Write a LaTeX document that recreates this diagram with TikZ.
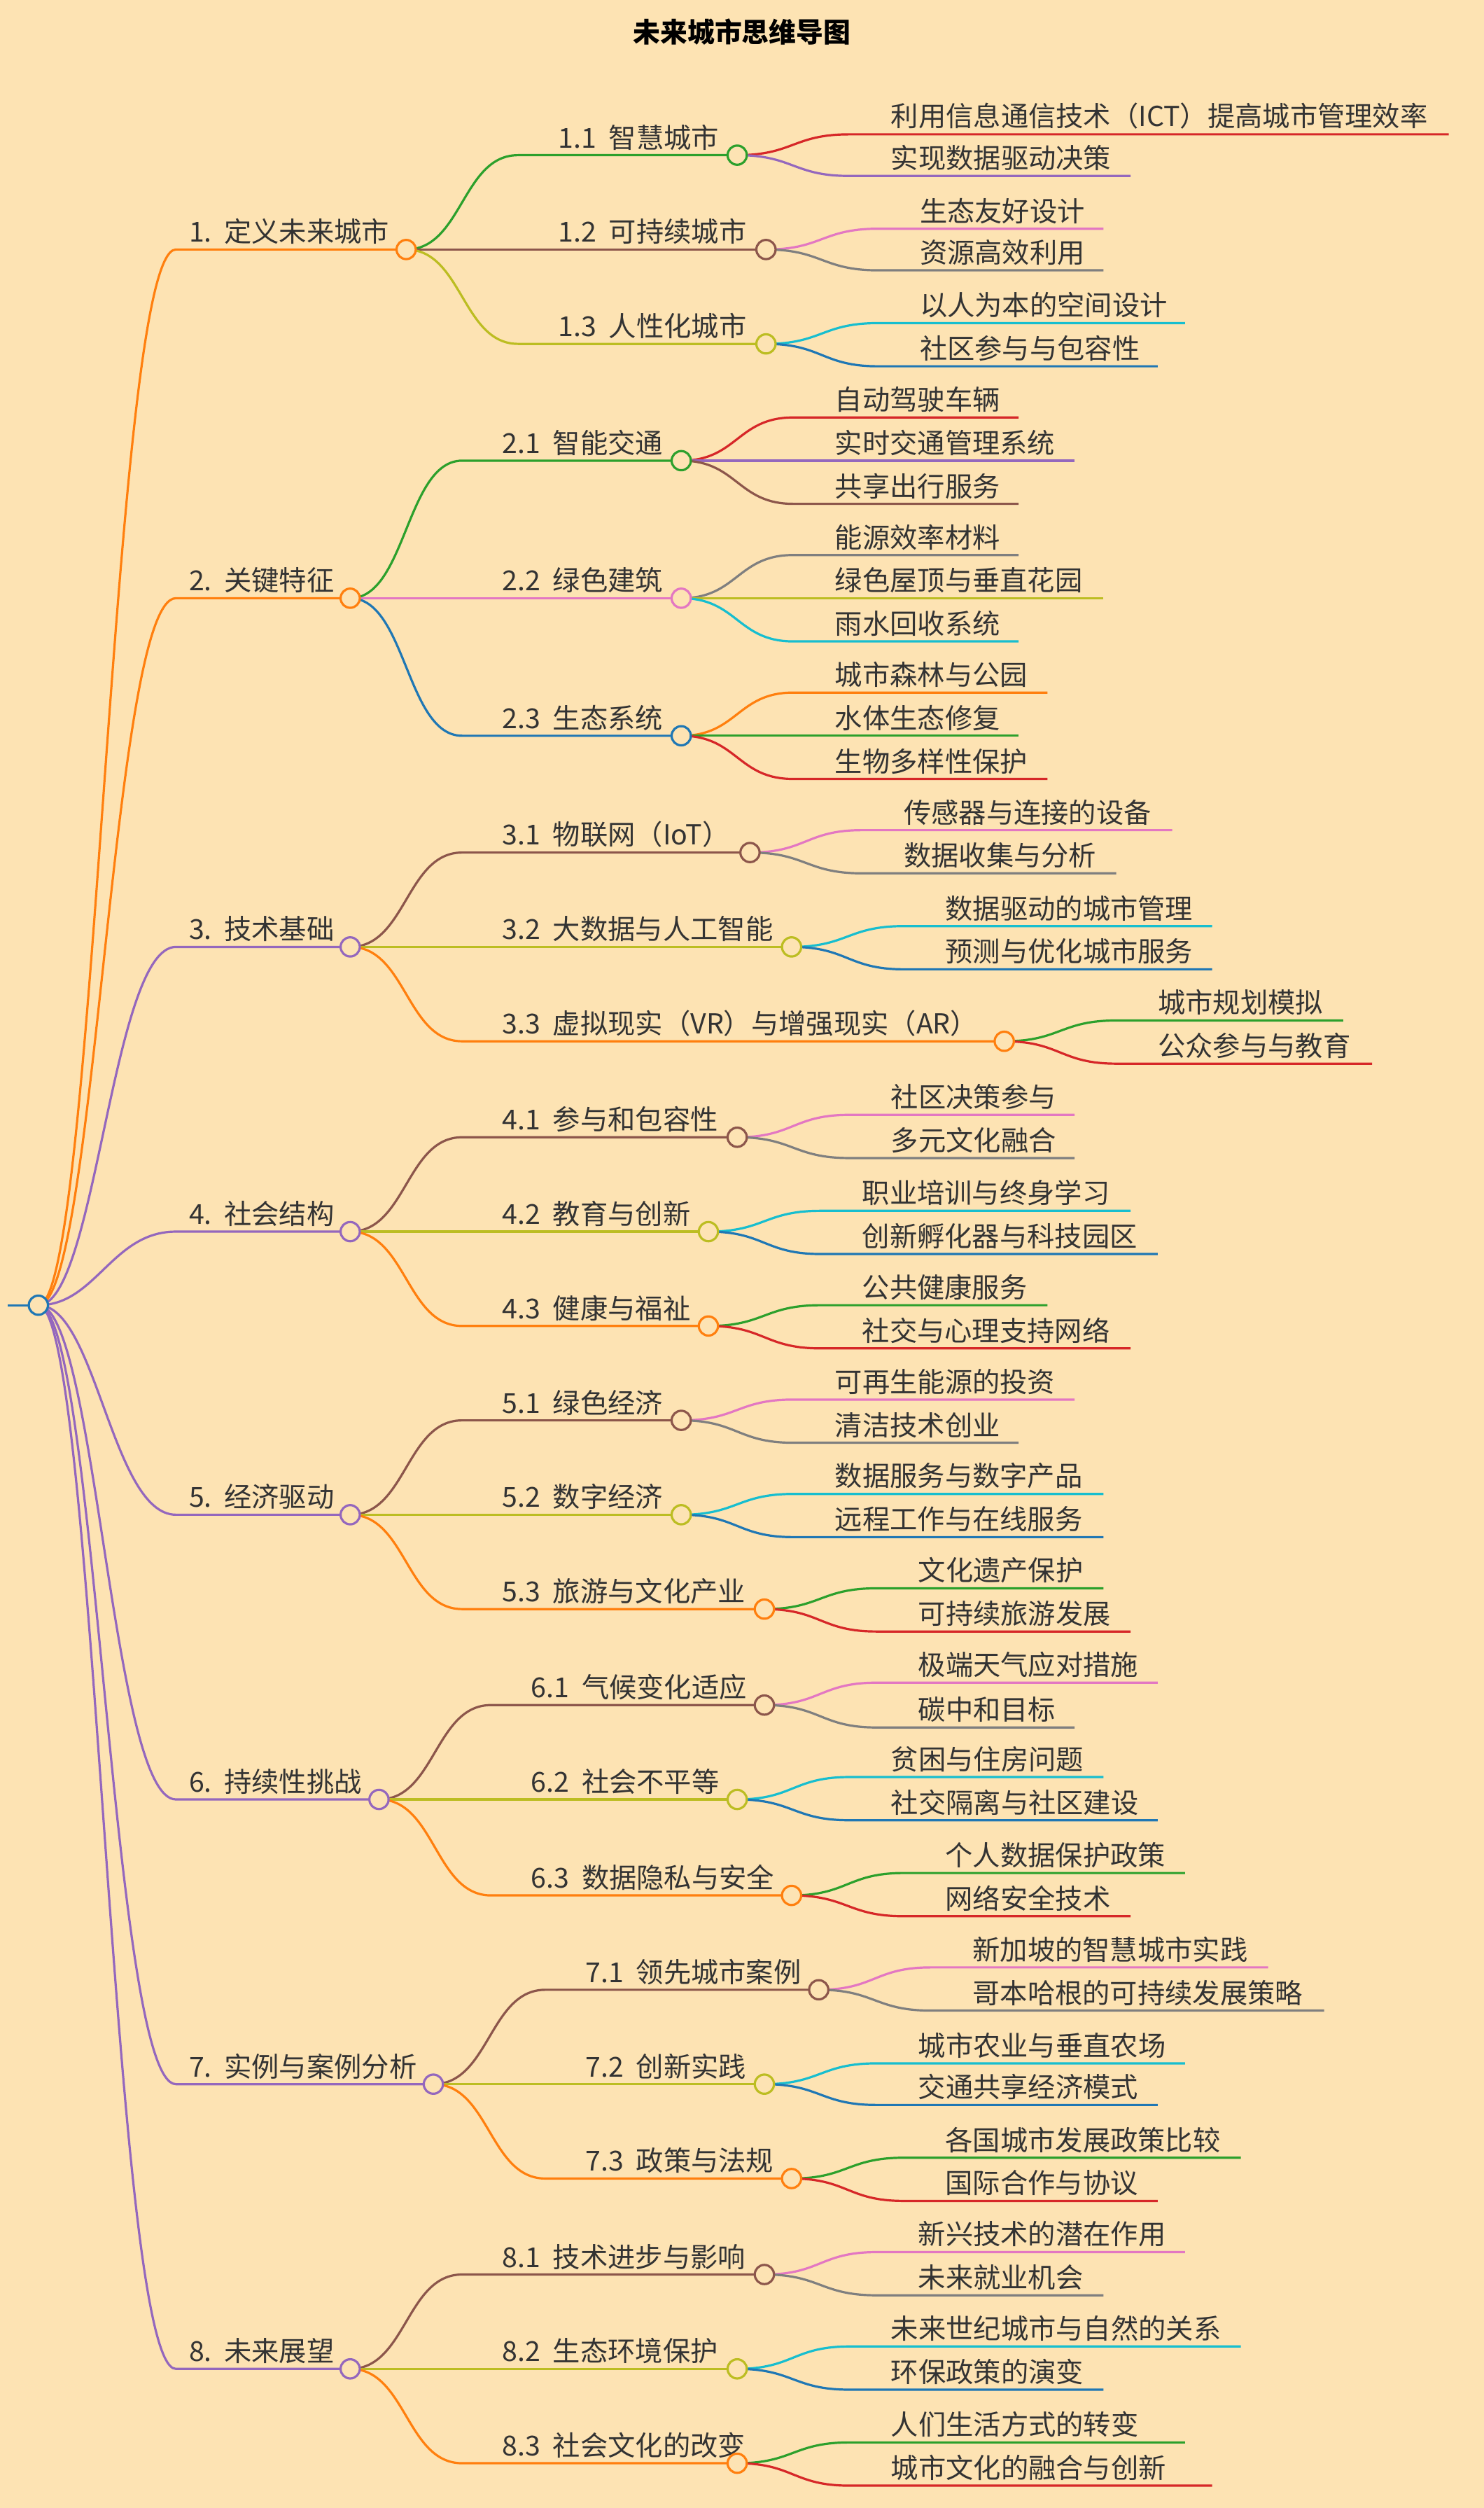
\documentclass[tikz,border=0pt]{standalone}
\usepackage{fontspec}
\setmainfont{Noto Sans CJK SC}
\definecolor{bg}{HTML}{FDE3B3}
\definecolor{cO}{HTML}{FF7F0E}\definecolor{cG}{HTML}{2CA02C}\definecolor{cR}{HTML}{D62728}
\definecolor{cP}{HTML}{9467BD}\definecolor{cB}{HTML}{8C564B}\definecolor{cK}{HTML}{E377C2}
\definecolor{cY}{HTML}{7F7F7F}\definecolor{cL}{HTML}{BCBD22}\definecolor{cC}{HTML}{17BECF}
\definecolor{cU}{HTML}{1F77B4}\definecolor{tx}{HTML}{333333}
\tikzset{lw/.style={line width=1.4pt},
 dot/.style={circle,draw=#1,fill=bg,line width=1.4pt,minimum size=12pt,inner sep=0pt},
 lbl/.style={text=tx,font=\fontsize{17.2}{19}\selectfont,inner sep=1pt,anchor=south west}}
\newcommand\Lone[5]{%
 \coordinate (#1) at (#3,#2);
 \draw[#4,lw] (root) .. controls (60,816) and (70,#2) .. (110,#2) -- (#1);
 \node[lbl] (#1t) at (117,#2-2) {#5};}
\newcommand\Ltwo[8]{%
 \coordinate (#4) at (#6,#5);
 \draw[#7,lw] (#1) .. controls (#2+35,#3) and (#2+35,#5) .. (#2+70,#5) -- (#4);
 \node[lbl] (#4t) at (#2+94,#5-2) {#8};}
\newcommand\Lthr[8]{%
 \coordinate (#4) at (#6,#5);
 \draw[#7,lw] (#1) .. controls (#2+35,#3) and (#2+35,#5) .. (#2+70,#5) -- (#4);
 \node[lbl] (#4t) at (#2+95,#5-2) {#8};}
\newcommand\Dot[2]{\node[dot=#2] at (#1) {};}
\renewcommand\sp{\hspace{0.45em}}
\begin{document}
\begin{tikzpicture}[x=1pt,y=-1pt]
\fill[bg] (0,0) rectangle (928,1568);
\useasboundingbox (0,0) rectangle (928,1568);
\node[text=black,font=\fontsize{17}{20}\selectfont\bfseries] (title) at (464,20) {未来城市思维导图};
\coordinate (root) at (24,816);
\coordinate (rootl) at (5,816);
\draw[cU,lw] (rootl) -- (root);
% ---------- 1
\Lone{a}{156}{254}{cO}{1.\sp 定义未来城市}
\Ltwo{a}{254}{156}{a1}{97}{461}{cG}{1.1\sp 智慧城市}
\Lthr{a1}{461}{97}{a11}{84}{906}{cR}{利用信息通信技术（ICT）提高城市管理效率}
\Lthr{a1}{461}{97}{a12}{110}{707}{cP}{实现数据驱动决策}
\Dot{a1}{cG}
\Ltwo{a}{254}{156}{a2}{156}{479}{cB}{1.2\sp 可持续城市}
\Lthr{a2}{479}{156}{a21}{143}{690}{cK}{生态友好设计}
\Lthr{a2}{479}{156}{a22}{169}{690}{cY}{资源高效利用}
\Dot{a2}{cB}
\Ltwo{a}{254}{156}{a3}{215}{479}{cL}{1.3\sp 人性化城市}
\Lthr{a3}{479}{215}{a31}{202}{741}{cC}{以人为本的空间设计}
\Lthr{a3}{479}{215}{a32}{229}{724}{cU}{社区参与与包容性}
\Dot{a3}{cL}
% ---------- 2
\Lone{b}{374}{219}{cO}{2.\sp 关键特征}
\Ltwo{b}{219}{374}{b1}{288}{426}{cG}{2.1\sp 智能交通}
\Lthr{b1}{426}{288}{b11}{261}{637}{cR}{自动驾驶车辆}
\Lthr{b1}{426}{288}{b12}{288}{672}{cP}{实时交通管理系统}
\Lthr{b1}{426}{288}{b13}{315}{637}{cB}{共享出行服务}
\Dot{b1}{cG}
\Ltwo{b}{219}{374}{b2}{374}{426}{cK}{2.2\sp 绿色建筑}
\Lthr{b2}{426}{374}{b21}{347}{637}{cY}{能源效率材料}
\Lthr{b2}{426}{374}{b22}{374}{690}{cL}{绿色屋顶与垂直花园}
\Lthr{b2}{426}{374}{b23}{401}{637}{cC}{雨水回收系统}
\Dot{b2}{cK}
\Ltwo{b}{219}{374}{b3}{460}{426}{cU}{2.3\sp 生态系统}
\Lthr{b3}{426}{460}{b31}{433}{655}{cO}{城市森林与公园}
\Lthr{b3}{426}{460}{b32}{460}{637}{cG}{水体生态修复}
\Lthr{b3}{426}{460}{b33}{487}{655}{cR}{生物多样性保护}
\Dot{b3}{cU}
% ---------- 3
\Lone{c}{592}{219}{cP}{3.\sp 技术基础}
\Ltwo{c}{219}{592}{c1}{533}{469}{cB}{3.1\sp 物联网（IoT）}
\Lthr{c1}{469}{533}{c11}{519}{733}{cK}{传感器与连接的设备}
\Lthr{c1}{469}{533}{c12}{546}{698}{cY}{数据收集与分析}
\Dot{c1}{cB}
\Ltwo{c}{219}{592}{c2}{592}{495}{cL}{3.2\sp 大数据与人工智能}
\Lthr{c2}{495}{592}{c21}{579}{758}{cC}{数据驱动的城市管理}
\Lthr{c2}{495}{592}{c22}{606}{758}{cU}{预测与优化城市服务}
\Dot{c2}{cL}
\Ltwo{c}{219}{592}{c3}{651}{628}{cO}{3.3\sp 虚拟现实（VR）与增强现实（AR）}
\Lthr{c3}{628}{651}{c31}{638}{840}{cG}{城市规划模拟}
\Lthr{c3}{628}{651}{c32}{665}{858}{cR}{公众参与与教育}
\Dot{c3}{cO}
% ---------- 4
\Lone{d}{770}{219}{cP}{4.\sp 社会结构}
\Ltwo{d}{219}{770}{d1}{711}{461}{cB}{4.1\sp 参与和包容性}
\Lthr{d1}{461}{711}{d11}{697}{672}{cK}{社区决策参与}
\Lthr{d1}{461}{711}{d12}{724}{672}{cY}{多元文化融合}
\Dot{d1}{cB}
\Ltwo{d}{219}{770}{d2}{770}{443}{cL}{4.2\sp 教育与创新}
\Lthr{d2}{443}{770}{d21}{757}{707}{cC}{职业培训与终身学习}
\Lthr{d2}{443}{770}{d22}{784}{724}{cU}{创新孵化器与科技园区}
\Dot{d2}{cL}
\Ltwo{d}{219}{770}{d3}{829}{443}{cO}{4.3\sp 健康与福祉}
\Lthr{d3}{443}{829}{d31}{816}{655}{cG}{公共健康服务}
\Lthr{d3}{443}{829}{d32}{843}{707}{cR}{社交与心理支持网络}
\Dot{d3}{cO}
% ---------- 5
\Lone{e}{947}{219}{cP}{5.\sp 经济驱动}
\Ltwo{e}{219}{947}{e1}{888}{426}{cB}{5.1\sp 绿色经济}
\Lthr{e1}{426}{888}{e11}{875}{672}{cK}{可再生能源的投资}
\Lthr{e1}{426}{888}{e12}{902}{637}{cY}{清洁技术创业}
\Dot{e1}{cB}
\Ltwo{e}{219}{947}{e2}{947}{426}{cL}{5.2\sp 数字经济}
\Lthr{e2}{426}{947}{e21}{934}{690}{cC}{数据服务与数字产品}
\Lthr{e2}{426}{947}{e22}{961}{690}{cU}{远程工作与在线服务}
\Dot{e2}{cL}
\Ltwo{e}{219}{947}{e3}{1006}{478}{cO}{5.3\sp 旅游与文化产业}
\Lthr{e3}{478}{1006}{e31}{993}{690}{cG}{文化遗产保护}
\Lthr{e3}{478}{1006}{e32}{1020}{707}{cR}{可持续旅游发展}
\Dot{e3}{cO}
% ---------- 6
\Lone{f}{1125}{237}{cP}{6.\sp 持续性挑战}
\Ltwo{f}{237}{1125}{f1}{1066}{478}{cB}{6.1\sp 气候变化适应}
\Lthr{f1}{478}{1066}{f11}{1052}{724}{cK}{极端天气应对措施}
\Lthr{f1}{478}{1066}{f12}{1080}{672}{cY}{碳中和目标}
\Dot{f1}{cB}
\Ltwo{f}{237}{1125}{f2}{1125}{461}{cL}{6.2\sp 社会不平等}
\Lthr{f2}{461}{1125}{f21}{1111}{690}{cC}{贫困与住房问题}
\Lthr{f2}{461}{1125}{f22}{1138}{724}{cU}{社交隔离与社区建设}
\Dot{f2}{cL}
\Ltwo{f}{237}{1125}{f3}{1185}{495}{cO}{6.3\sp 数据隐私与安全}
\Lthr{f3}{495}{1185}{f31}{1171}{741}{cG}{个人数据保护政策}
\Lthr{f3}{495}{1185}{f32}{1198}{707}{cR}{网络安全技术}
\Dot{f3}{cO}
% ---------- 7
\Lone{g}{1303}{271}{cP}{7.\sp 实例与案例分析}
\Ltwo{g}{271}{1303}{g1}{1244}{512}{cB}{7.1\sp 领先城市案例}
\Lthr{g1}{512}{1244}{g11}{1230}{793}{cK}{新加坡的智慧城市实践}
\Lthr{g1}{512}{1244}{g12}{1257}{828}{cY}{哥本哈根的可持续发展策略}
\Dot{g1}{cB}
\Ltwo{g}{271}{1303}{g2}{1303}{478}{cL}{7.2\sp 创新实践}
\Lthr{g2}{478}{1303}{g21}{1290}{741}{cC}{城市农业与垂直农场}
\Lthr{g2}{478}{1303}{g22}{1316}{724}{cU}{交通共享经济模式}
\Dot{g2}{cL}
\Ltwo{g}{271}{1303}{g3}{1362}{495}{cO}{7.3\sp 政策与法规}
\Lthr{g3}{495}{1362}{g31}{1349}{776}{cG}{各国城市发展政策比较}
\Lthr{g3}{495}{1362}{g32}{1376}{724}{cR}{国际合作与协议}
\Dot{g3}{cO}
% ---------- 8
\Lone{h}{1481}{219}{cP}{8.\sp 未来展望}
\Ltwo{h}{219}{1481}{h1}{1422}{478}{cB}{8.1\sp 技术进步与影响}
\Lthr{h1}{478}{1422}{h11}{1408}{741}{cK}{新兴技术的潜在作用}
\Lthr{h1}{478}{1422}{h12}{1435}{690}{cY}{未来就业机会}
\Dot{h1}{cB}
\Ltwo{h}{219}{1481}{h2}{1481}{461}{cL}{8.2\sp 生态环境保护}
\Lthr{h2}{461}{1481}{h21}{1467}{776}{cC}{未来世纪城市与自然的关系}
\Lthr{h2}{461}{1481}{h22}{1494}{690}{cU}{环保政策的演变}
\Dot{h2}{cL}
\Ltwo{h}{219}{1481}{h3}{1540}{461}{cO}{8.3\sp 社会文化的改变}
\Lthr{h3}{461}{1540}{h31}{1527}{741}{cG}{人们生活方式的转变}
\Lthr{h3}{461}{1540}{h32}{1554}{758}{cR}{城市文化的融合与创新}
\Dot{h3}{cO}
\Dot{a}{cO}\Dot{b}{cO}\Dot{c}{cP}\Dot{d}{cP}\Dot{e}{cP}\Dot{f}{cP}\Dot{g}{cP}\Dot{h}{cP}
\Dot{root}{cU}
\end{tikzpicture}
\end{document}
